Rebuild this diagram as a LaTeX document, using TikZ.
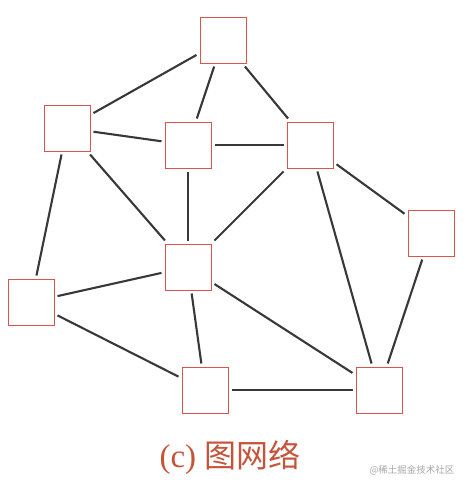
\documentclass[tikz,border=0pt]{standalone}
\usepackage{fontspec}
\newfontfamily\cjk{Noto Sans CJK SC}
\setmainfont{Liberation Serif}
\definecolor{boxred}{HTML}{D9534F}
\definecolor{edgegray}{HTML}{383838}
\definecolor{capred}{HTML}{C4543A}
\begin{document}
\begin{tikzpicture}[x=1pt,y=-1pt,
  vbox/.style={draw=boxred,line width=0.9pt,fill=white,minimum size=46pt,inner sep=0pt,outer sep=3.5pt},
  edge/.style={draw=edgegray,line width=2.1pt}]
\useasboundingbox (0,0) rectangle (470,491);
\node[vbox] (A) at (223,40) {};
\node[vbox] (B) at (67,128) {};
\node[vbox] (C) at (188,145) {};
\node[vbox] (D) at (310,145) {};
\node[vbox] (E) at (431,233) {};
\node[vbox] (F) at (188,267) {};
\node[vbox] (G) at (31,302) {};
\node[vbox] (H) at (205,390) {};
\node[vbox] (I) at (379,390) {};
\foreach \a/\b in {A/B,A/C,A/D,B/C,B/F,B/G,C/D,C/F,D/F,D/I,D/E,E/I,F/G,F/H,F/I,G/H,H/I}
  \draw[edge] (\a) -- (\b);
\node[text=capred,font=\fontsize{33}{38}\selectfont,inner sep=0pt] (cap) at (230,457) {(c) {\cjk\fontsize{32}{38}\selectfont 图网络}};
\node[text=gray!70,font=\cjk\fontsize{9.5}{11}\selectfont,inner sep=0pt] (wm) at (412,470) {@稀土掘金技术社区};
\end{tikzpicture}
\end{document}
